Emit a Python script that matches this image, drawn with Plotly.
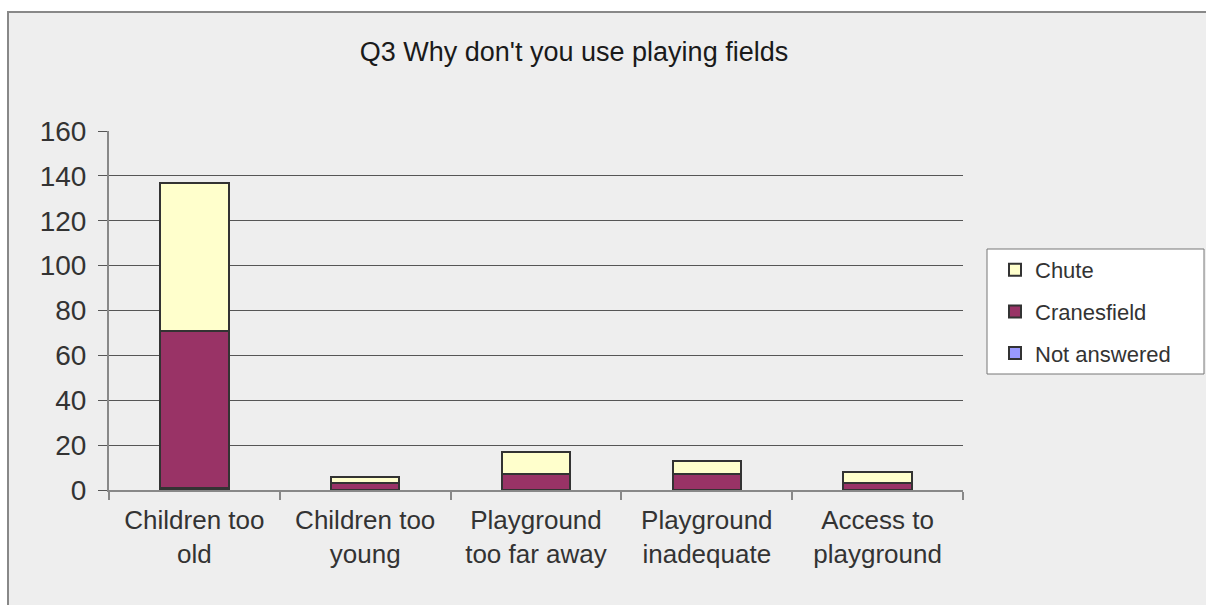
import plotly.graph_objects as go

categories = ["Children too<br>old", "Children too<br>young", "Playground<br>too far away",
              "Playground<br>inadequate", "Access to<br>playground"]
not_answered = [1, 0, 0, 0, 0]
cranesfield = [70, 3, 7, 7, 3]
chute = [66, 3, 10, 6, 5]
y_ticks = [0, 20, 40, 60, 80, 100, 120, 140, 160]

W, H = 1206, 605
ML, MR, MT, MB = 109, W - 963, 131, H - 490
PW, PH = W - ML - MR, H - MT - MB

def px_x(p):
    return (p - ML) / PW

def px_y(p):
    return (H - MB - p) / PH

FONT = "Liberation Sans, Arial, sans-serif"
line = dict(color="#333333", width=2)

fig = go.Figure()
fig.add_trace(go.Bar(name="Not answered", x=categories, y=not_answered,
                     marker=dict(color="#9999ff", line=line), legendgroup="na", legendrank=3))
fig.add_trace(go.Bar(name="Cranesfield", x=categories, y=cranesfield,
                     marker=dict(color="#993366", line=line), legendgroup="cr", legendrank=2))
fig.add_trace(go.Bar(name="Chute", x=categories, y=chute,
                     marker=dict(color="#ffffcc", line=line), legendgroup="ch", legendrank=1))

# chart-area background and border
fig.add_shape(type="rect", xref="paper", yref="paper",
              x0=px_x(8), x1=px_x(1215), y0=px_y(615), y1=px_y(12),
              fillcolor="#eeeeee", line=dict(color="#888888", width=2), layer="below")
# legend box
fig.add_shape(type="rect", xref="paper", yref="paper",
              x0=px_x(987), x1=px_x(1204), y0=px_y(374), y1=px_y(249),
              fillcolor="white", line=dict(color="#777777", width=1), layer="above")

fig.update_layout(
    width=W, height=H,
    margin=dict(l=ML, r=MR, t=MT, b=MB),
    paper_bgcolor="white",
    plot_bgcolor="rgba(0,0,0,0)",
    barmode="stack",
    bargap=0.6,
    font=dict(family=FONT, color="#333333", size=24),
    title=dict(text="Q3 Why don't you use playing fields", x=574 / W, xanchor="center",
               y=1 - 52 / H, yanchor="middle",
               font=dict(family=FONT, size=27, color="#1a1a1a")),
    legend=dict(x=px_x(995), xanchor="left", y=px_y(249), yanchor="top",
                bgcolor="rgba(0,0,0,0)", borderwidth=0,
                font=dict(size=22, color="#333333"),
                traceorder="grouped", tracegroupgap=10),
    showlegend=True,
)
fig.update_xaxes(showline=True, linecolor="#888888", linewidth=2,
                 ticks="outside", tickson="boundaries", ticklen=8, tickcolor="#888888",
                 tickwidth=2, showgrid=False, tickfont=dict(size=26),
                 ticklabelstandoff=6)
fig.update_yaxes(range=[0, 160], tickvals=y_ticks, showline=True, linecolor="#888888",
                 linewidth=2, ticks="outside", ticklen=9, tickcolor="#555555",
                 showgrid=True, gridcolor="#555555", gridwidth=1, zeroline=False,
                 ticklabelstandoff=6, tickfont=dict(size=28))

fig.write_html("out.html", config={"displayModeBar": False},
               post_script="document.body.style.margin='0';")
